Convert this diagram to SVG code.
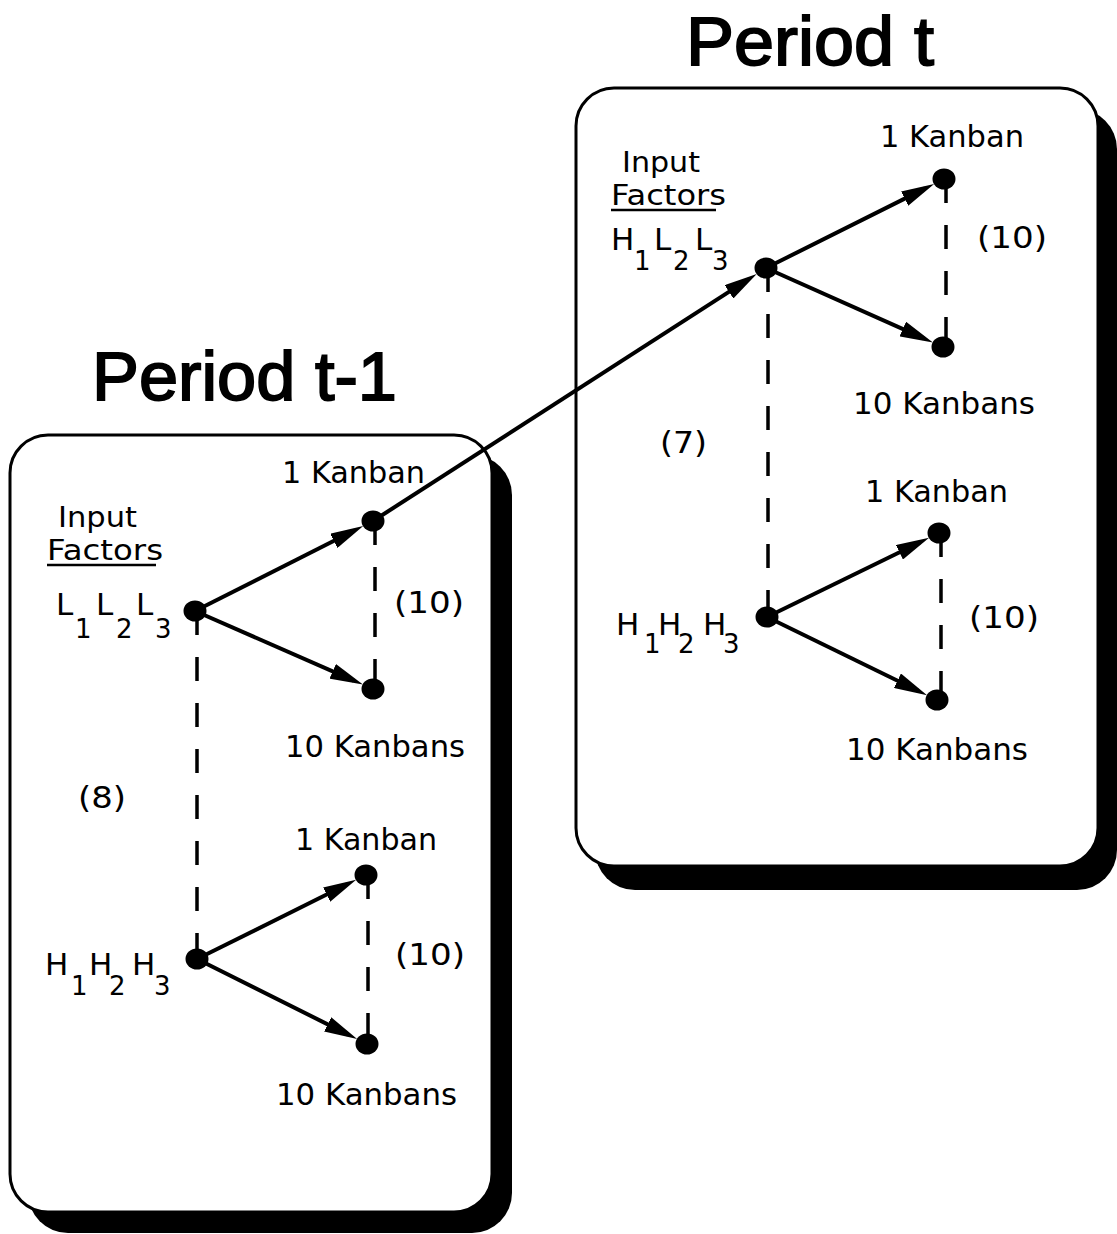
<svg xmlns="http://www.w3.org/2000/svg" width="1117" height="1234" viewBox="0 0 1117 1234">
<style>
.box{fill:#fff;stroke:#000;stroke-width:3}
.shadow{fill:#000}
.lbl{font-family:"DejaVu Sans","Liberation Sans",sans-serif;font-size:31px;fill:#000}
.inp{font-family:"DejaVu Sans","Liberation Sans",sans-serif;font-size:28px;fill:#000}
.sub{font-family:"DejaVu Sans","Liberation Sans",sans-serif;font-size:26px;fill:#000}
.title{font-family:"Liberation Sans",Arial,sans-serif;font-size:68px;fill:#000;stroke:#000;stroke-width:1.8}
.arrow{stroke:#000;stroke-width:4;fill:none;marker-end:url(#ah)}
.dash{stroke:#000;stroke-width:3.5;stroke-dasharray:24 22;fill:none}
.dot{fill:#000}
</style>
<defs>
<marker id="ah" viewBox="0 0 33 16" markerWidth="33" markerHeight="16" refX="23" refY="8" orient="auto" markerUnits="userSpaceOnUse">
<path d="M0,0 L33,8 L0,16 z" fill="#000"/>
</marker>
</defs>
<rect width="1117" height="1234" fill="#fff"/>

<g id="period-t-1">
<rect class="shadow" x="28" y="455" width="484" height="778" rx="40"/>
<rect class="box" x="10" y="435" width="482" height="777" rx="38"/>
<text class="title" x="92" y="400" textLength="305" lengthAdjust="spacingAndGlyphs">Period t-1</text>
</g>

<g id="period-t">
<rect class="shadow" x="595" y="109" width="522" height="781" rx="40"/>
<rect class="box" x="576" y="88" width="522" height="778" rx="38"/>
<text class="title" x="686" y="65" textLength="248" lengthAdjust="spacingAndGlyphs">Period t</text>
</g>

<g id="connectors">
<line class="dash" x1="197" y1="611" x2="197" y2="959"/>
<line class="dash" x1="375" y1="521" x2="375" y2="689"/>
<line class="dash" x1="368" y1="875" x2="368" y2="1044"/>
<line class="dash" x1="768" y1="268" x2="768" y2="617"/>
<line class="dash" x1="946" y1="179" x2="946" y2="347"/>
<line class="dash" x1="941" y1="533" x2="941" y2="700"/>
<line class="arrow" x1="195" y1="611" x2="354.3" y2="530.5"/>
<line class="arrow" x1="195" y1="611" x2="353.8" y2="680.6"/>
<line class="arrow" x1="197" y1="959" x2="347.2" y2="884.3"/>
<line class="arrow" x1="197" y1="959" x2="348.2" y2="1034.6"/>
<line class="arrow" x1="373" y1="521" x2="748.3" y2="279.4"/>
<line class="arrow" x1="766" y1="268" x2="925.2" y2="188.4"/>
<line class="arrow" x1="766" y1="268" x2="923.8" y2="338.4"/>
<line class="arrow" x1="767" y1="617" x2="920.1" y2="542.2"/>
<line class="arrow" x1="767" y1="617" x2="918.1" y2="690.8"/>
</g>

<g id="left-input">
<text class="inp" x="58" y="527" textLength="79" lengthAdjust="spacingAndGlyphs">Input</text>
<text class="inp" x="47" y="560" textLength="116" lengthAdjust="spacingAndGlyphs">Factors</text>
<line x1="47" y1="565" x2="156" y2="565" stroke="#000" stroke-width="2.5"/>
</g>
<g id="node-L1L2L3">
<text class="lbl" x="56" y="615">L</text><text class="sub" x="75" y="638">1</text>
<text class="lbl" x="96" y="615">L</text><text class="sub" x="116" y="638">2</text>
<text class="lbl" x="136" y="615">L</text><text class="sub" x="155" y="638">3</text>
<ellipse class="dot" cx="195" cy="611" rx="11.5" ry="10.5"/>
</g>
<g id="node-left-top-1kanban">
<text class="lbl" x="282" y="483" textLength="143" lengthAdjust="spacingAndGlyphs">1 Kanban</text>
<ellipse class="dot" cx="373" cy="521" rx="11.5" ry="10.5"/>
</g>
<g id="node-left-top-10kanbans">
<text class="lbl" x="285" y="757" textLength="180" lengthAdjust="spacingAndGlyphs">10 Kanbans</text>
<ellipse class="dot" cx="373" cy="689" rx="11.5" ry="10.5"/>
</g>
<text class="lbl" x="394" y="613" textLength="70" lengthAdjust="spacingAndGlyphs">(10)</text>
<text class="lbl" x="78" y="808" textLength="48" lengthAdjust="spacingAndGlyphs">(8)</text>
<g id="node-H1H2H3-left">
<text class="lbl" x="45" y="975">H</text><text class="sub" x="71" y="995">1</text>
<text class="lbl" x="89" y="975">H</text><text class="sub" x="109" y="995">2</text>
<text class="lbl" x="132" y="975">H</text><text class="sub" x="154" y="995">3</text>
<ellipse class="dot" cx="197" cy="959" rx="11.5" ry="10.5"/>
</g>
<g id="node-left-bottom-1kanban">
<text class="lbl" x="295" y="850" textLength="142" lengthAdjust="spacingAndGlyphs">1 Kanban</text>
<ellipse class="dot" cx="366" cy="875" rx="11.5" ry="10.5"/>
</g>
<g id="node-left-bottom-10kanbans">
<text class="lbl" x="276" y="1105" textLength="181" lengthAdjust="spacingAndGlyphs">10 Kanbans</text>
<ellipse class="dot" cx="367" cy="1044" rx="11.5" ry="10.5"/>
</g>
<text class="lbl" x="395" y="965" textLength="70" lengthAdjust="spacingAndGlyphs">(10)</text>

<g id="right-input">
<text class="inp" x="622" y="172" textLength="78" lengthAdjust="spacingAndGlyphs">Input</text>
<text class="inp" x="611" y="205" textLength="115" lengthAdjust="spacingAndGlyphs">Factors</text>
<line x1="611" y1="210" x2="716" y2="210" stroke="#000" stroke-width="2.5"/>
</g>
<g id="node-H1L2L3">
<text class="lbl" x="611" y="250">H</text><text class="sub" x="634" y="270">1</text>
<text class="lbl" x="654" y="250">L</text><text class="sub" x="673" y="270">2</text>
<text class="lbl" x="695" y="250">L</text><text class="sub" x="712" y="270">3</text>
<ellipse class="dot" cx="766" cy="268" rx="11.5" ry="10.5"/>
</g>
<g id="node-right-top-1kanban">
<text class="lbl" x="880" y="147" textLength="144" lengthAdjust="spacingAndGlyphs">1 Kanban</text>
<ellipse class="dot" cx="944" cy="179" rx="11.5" ry="10.5"/>
</g>
<g id="node-right-top-10kanbans">
<text class="lbl" x="853" y="414" textLength="182" lengthAdjust="spacingAndGlyphs">10 Kanbans</text>
<ellipse class="dot" cx="943" cy="347" rx="11.5" ry="10.5"/>
</g>
<text class="lbl" x="977" y="248" textLength="70" lengthAdjust="spacingAndGlyphs">(10)</text>
<text class="lbl" x="660" y="453" textLength="47" lengthAdjust="spacingAndGlyphs">(7)</text>
<g id="node-H1H2H3-right">
<text class="lbl" x="616" y="635">H</text><text class="sub" x="644" y="653">1</text>
<text class="lbl" x="658" y="635">H</text><text class="sub" x="678" y="653">2</text>
<text class="lbl" x="703" y="635">H</text><text class="sub" x="723" y="653">3</text>
<ellipse class="dot" cx="767" cy="617" rx="11.5" ry="10.5"/>
</g>
<g id="node-right-bottom-1kanban">
<text class="lbl" x="865" y="502" textLength="143" lengthAdjust="spacingAndGlyphs">1 Kanban</text>
<ellipse class="dot" cx="939" cy="533" rx="11.5" ry="10.5"/>
</g>
<g id="node-right-bottom-10kanbans">
<text class="lbl" x="846" y="760" textLength="182" lengthAdjust="spacingAndGlyphs">10 Kanbans</text>
<ellipse class="dot" cx="937" cy="700" rx="11.5" ry="10.5"/>
</g>
<text class="lbl" x="969" y="628" textLength="70" lengthAdjust="spacingAndGlyphs">(10)</text>
</svg>
